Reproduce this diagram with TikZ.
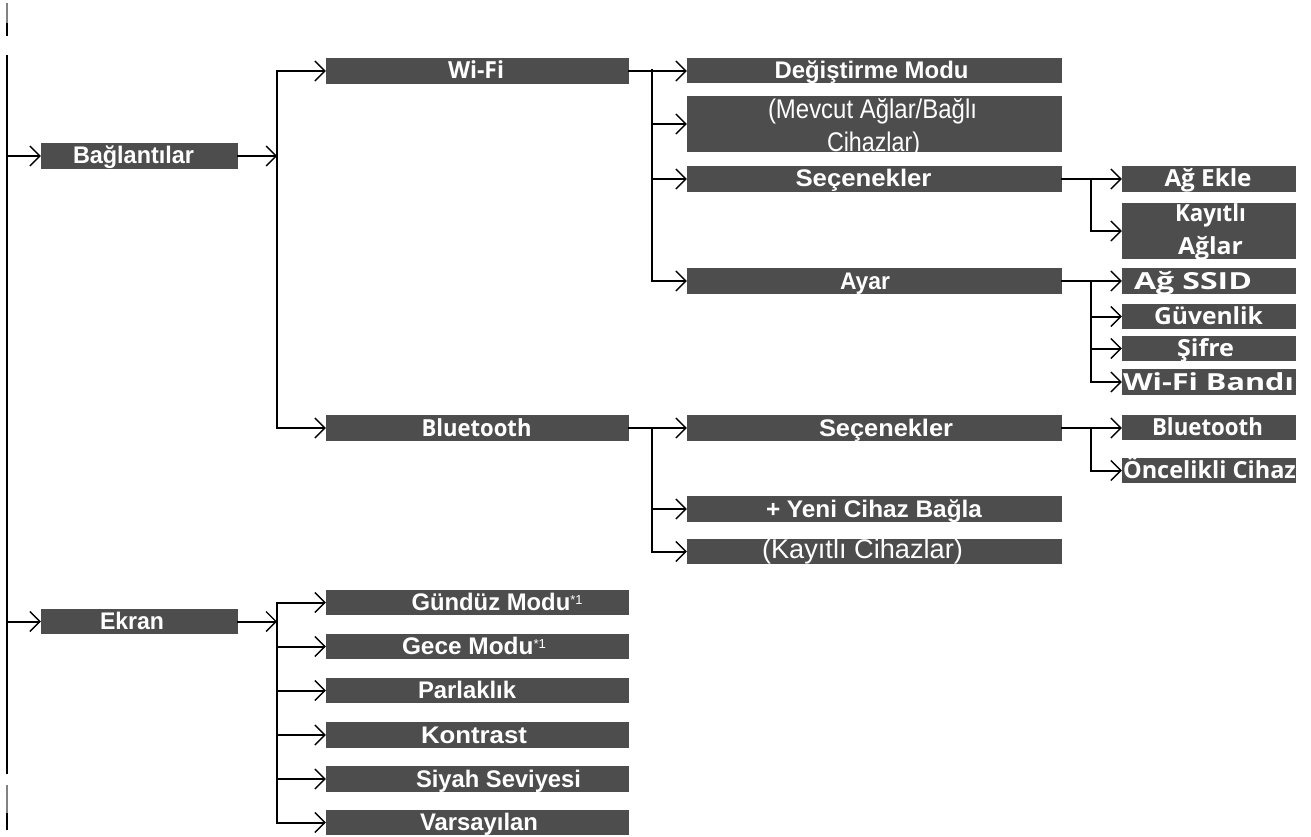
\documentclass[tikz,border=0pt]{standalone}
\usepackage{fontspec}
\setmainfont{Liberation Sans}
\newfontfamily\fru{Open Sans}
\usepackage{graphicx}
\usetikzlibrary{arrows.meta}
\definecolor{boxgray}{RGB}{77,77,77}
\definecolor{brk}{RGB}{130,130,130}
\newcommand{\tx}[3]{\hbox to 0pt{\hss\kern#1pt\kern#1pt\resizebox{#2pt}{\height}{#3}\hss}}
\newcommand{\twoln}[6]{\vbox{\baselineskip=32.5pt\lineskiplimit=-100pt\lineskip=0pt\tx{#1}{#2}{#3}\tx{#4}{#5}{#6}}}
\newcommand{\bx}[7][]{\node[box,#1,minimum width={(#5-#3)*1pt},minimum height={(#6-#4)*1pt}] (#2) at ({(#3+#5)/2},{(#4+#6)/2}) {#7};}
\newcommand{\supone}{\raisebox{6pt}{\fontsize{13}{13}\selectfont\mdseries *1}}
\begin{document}
\begin{tikzpicture}[x=1pt,y=-1pt,
  box/.style={fill=boxgray,text=white,inner sep=0pt,text height=18pt,text depth=2pt,font=\fontsize{24}{26}\selectfont\bfseries},
  fr/.style={font=\fontsize{23.5}{26}\selectfont\fru\bfseries},
  rg/.style={font=\fontsize{27}{30}\selectfont\mdseries,text height=19.5pt,text depth=5.5pt},
  ln/.style={line width=2pt,line cap=rect},
  arr/.style={ln,-{Straight Barb[length=10pt,width=20pt,line width=1.3pt]}}]
\useasboundingbox (0,0) rectangle (1311,837);
% boxes
\bx{bag}{41}{143}{238}{169}{\tx{-6}{121}{Bağlantılar}}
\bx{ekran}{41}{609}{238}{634}{\tx{-7.5}{64}{Ekran}}
\bx[fr]{wifi}{326}{58}{629}{84}{\tx{-1.5}{56}{Wi-Fi}}
\bx[fr]{bt}{326}{415}{629}{441}{\tx{-1}{110}{Bluetooth}}
\bx{degis}{687}{58}{1062}{83}{\tx{-3}{194}{Değiştirme Modu}}
\bx[rg,text height=55.5pt,text depth=0.5pt]{mevcut}{687}{96}{1062}{152}{\twoln{-2}{209}{(Mevcut Ağlar/Bağlı}{-1}{93}{Cihazlar)}}
\bx{wsec}{687}{166}{1062}{192}{\tx{-11}{136}{Seçenekler}}
\bx{ayar}{687}{268}{1062}{294}{\tx{-9.5}{50}{Ayar}}
\bx[fr]{agekle}{1122}{166}{1296}{192}{\tx{-1}{87}{Ağ Ekle}}
\bx[fr,text height=51pt,text depth=5pt]{kayitli}{1122}{203}{1296}{259}{\twoln{1.5}{71}{Kayıtlı}{1.5}{65}{Ağlar}}
\bx[fr]{ssid}{1122}{268}{1296}{294}{\tx{-16}{118}{Ağ SSID}}
\bx[fr]{guv}{1122}{304}{1296}{329}{\tx{-0.5}{109}{Güvenlik}}
\bx[fr]{sifre}{1122}{336}{1296}{361}{\tx{-3.5}{57}{Şifre}}
\bx[fr]{band}{1122}{369}{1296}{395}{\tx{-0.5}{171}{Wi-Fi Bandı}}
\bx{btsec}{687}{415}{1062}{441}{\tx{11.5}{134}{Seçenekler}}
\bx{yeni}{687}{496}{1062}{522}{\tx{-0.5}{216}{+ Yeni Cihaz Bağla}}
\bx[rg]{kcihaz}{687}{539}{1062}{564}{\tx{-12}{201}{(Kayıtlı Cihazlar)}}
\bx[fr]{btbt}{1122}{415}{1296}{440}{\tx{-1.5}{111}{Bluetooth}}
\bx[fr]{oncel}{1122}{458}{1296}{483}{\tx{0.5}{173}{Öncelikli Cihaz}}
\bx{gunduz}{326}{590}{629}{615}{\tx{19.5}{171}{Gündüz Modu\supone}}
\bx{gece}{326}{634}{629}{659}{\tx{-3.5}{144}{Gece Modu\supone}}
\bx{parlak}{326}{678}{629}{703}{\tx{-10.5}{98}{Parlaklık}}
\bx{kontrast}{326}{722}{629}{748}{\tx{-3.5}{106}{Kontrast}}
\bx{siyah}{326}{766}{629}{792}{\tx{21}{165}{Siyah Seviyesi}}
\bx{varsay}{326}{810}{629}{835}{\tx{1.5}{118}{Varsayılan}}
% branch columns
\coordinate (xT) at (7,0);
\coordinate (xA) at (277,0);
\coordinate (xB) at (652,0);
\coordinate (xC) at (1091,0);
% trunk and page-break marks
\coordinate (tTop) at (7,55);
\coordinate (tBot) at (7,774);
\coordinate (k0) at (7,3);
\coordinate (k1) at (7,23);
\coordinate (k2) at (7,36);
\coordinate (m0) at (7,785);
\coordinate (m1) at (7,813);
\coordinate (m2) at (7,830);
\draw[ln,line cap=butt,draw=brk] (k0) -- (k1);
\draw[ln,line cap=butt] (k1) -- (k2);
\draw[ln,line cap=butt,draw=brk] (m0) -- (m1);
\draw[ln,line cap=butt] (m1) -- (m2);
\draw[ln,line cap=butt] (tTop) -- (tBot);
\draw[arr] (bag.west -| xT) -- (bag.west);
\draw[arr] (ekran.west -| xT) -- (ekran.west);
% Baglantilar
\draw[arr] (bag.east) -- (bag.east -| xA);
\draw[arr] (bt.west -| xA) |- (wifi.west);
\draw[arr] (wifi.west -| xA) |- (bt.west);
% Wi-Fi
\draw[arr] (wifi.east) -- (wifi.east -| degis.west);
\draw[arr] (degis.west -| xB) |- (ayar.west);
\draw[arr] (mevcut.west -| xB) -- (mevcut.west);
\draw[arr] (wsec.west -| xB) -- (wsec.west);
% Wi-Fi Secenekler
\draw[arr] (wsec.east) -- (wsec.east -| agekle.west);
\draw[arr] (agekle.west -| xC) |- (kayitli.west);
% Ayar
\draw[arr] (ayar.east) -- (ayar.east -| ssid.west);
\draw[arr] (ssid.west -| xC) |- (band.west);
\draw[arr] (guv.west -| xC) -- (guv.west);
\draw[arr] (sifre.west -| xC) -- (sifre.west);
% Bluetooth
\draw[arr] (bt.east) -- (bt.east -| btsec.west);
\draw[arr] (btsec.west -| xB) |- (kcihaz.west);
\draw[arr] (yeni.west -| xB) -- (yeni.west);
% BT Secenekler
\draw[arr] (btsec.east) -- (btsec.east -| btbt.west);
\draw[arr] (btbt.west -| xC) |- (oncel.west);
% Ekran
\draw[arr] (ekran.east) -- (ekran.east -| xA);
\draw[arr] (varsay.west -| xA) |- (gunduz.west);
\draw[arr] (gunduz.west -| xA) |- (varsay.west);
\draw[arr] (gece.west -| xA) -- (gece.west);
\draw[arr] (parlak.west -| xA) -- (parlak.west);
\draw[arr] (kontrast.west -| xA) -- (kontrast.west);
\draw[arr] (siyah.west -| xA) -- (siyah.west);
\end{tikzpicture}
\end{document}
